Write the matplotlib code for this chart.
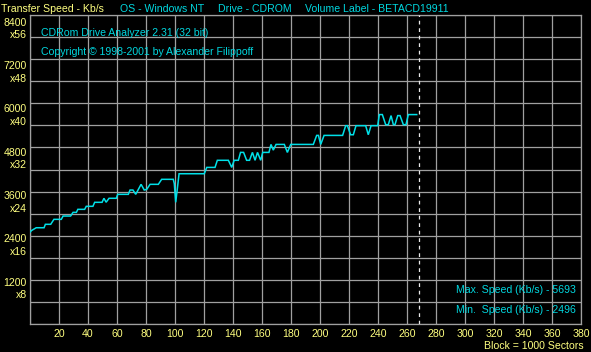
import matplotlib
matplotlib.use("Agg")
import matplotlib.pyplot as plt
from matplotlib.transforms import ScaledTranslation

# ---------------- data ----------------
blocks = [0, 1, 4.3, 9.7, 10.6, 14.3, 16.5, 21.6, 22.8, 28, 29.7, 32, 33, 37.7, 38.8, 43.4,
          44.6, 49.7, 51, 52.5, 54.5, 59.5, 60.5, 67.8, 69, 71, 72.9, 74.5, 76.6, 78.8, 80.5,
          82.8, 88.5, 90.8, 98.8, 99.5, 100.5, 101.5, 102.8, 120.2, 121.9, 127.6, 129.2, 136.8,
          139.1, 140.8, 143.7, 145.2, 147.3, 149.4, 151.4, 153.4, 155.2, 156.9, 159.1, 160.5,
          164.8, 166.2, 167.8, 169.7, 175.4, 177.5, 179.8, 195.4, 197.7, 198.9, 200.5, 202.8,
          215.6, 217.7, 218.9, 221.1, 223.0, 224.8, 231.5, 233.3, 235.2, 239.8, 240.9, 243.0,
          245.3, 247.1, 249.0, 250.6, 251.7, 253.6, 255.2, 257.5, 259.3, 260.9, 266.7]
speeds = [2496, 2540, 2617, 2617, 2710, 2710, 2845, 2845, 2935, 2935, 3035, 3035, 3117, 3117, 3199, 3199,
          3308, 3308, 3417, 3310, 3417, 3417, 3525, 3525, 3642, 3642, 3525, 3642, 3797, 3642, 3660,
          3797, 3797, 3933, 3933, 3820, 3308, 3640, 4085, 4085, 4257, 4257, 4450, 4450,
          4257, 4450, 4450, 4665, 4665, 4450, 4450, 4665, 4450, 4665, 4450, 4665,
          4665, 4882, 4727, 4882, 4882, 4664, 4882, 4882, 5127, 5127, 4882, 5127,
          5127, 5391, 5391, 5145, 5145, 5391, 5391, 5145, 5391, 5391, 5693, 5693,
          5418, 5418, 5665, 5418, 5418, 5665, 5665, 5418, 5418, 5693, 5693]
end_block = 268
x_ticks = list(range(20, 381, 20))
y_label_vals = [1200, 2400, 3600, 4800, 6000, 7200, 8400]
y_mult_labels = ["x8", "x16", "x24", "x32", "x40", "x48", "x56"]
header_texts = ["Transfer Speed - Kb/s", "OS - Windows NT", "Drive - CDROM",
                "Volume Label - BETACD19911"]
title_text = "CDRom Drive Analyzer 2.31 (32 bit)"
copyright_text = "Copyright \u00a9 1998-2001 by Alexander Filippoff"
max_text = "Max. Speed (Kb/s) - 5693"
min_text = "Min.  Speed (Kb/s) - 2496"
block_text = "Block = 1000 Sectors"

# ---------------- style ----------------
W, H = 591, 352
DPI = 100
YEL = "#FFFF80"
CYA = "#00D8E0"
LINE = "#00E0E8"
GRID = "#A0A0A0"
FONT = "Liberation Sans"
FS = 7.6

fig = plt.figure(figsize=(W / DPI, H / DPI), dpi=DPI, facecolor="black")
L, R, T, B = 30, 581, 15, 324
ax = fig.add_axes([L / W, 1 - B / H, (R - L) / W, (B - T) / H], facecolor="black")
ax.set_xlim(0, 380)
ax.set_ylim(0, 8400)
ax.set_xticks(range(0, 381, 20))
ax.set_yticks(range(0, 8401, 600))
ax.grid(True, color=GRID, lw=0.9)
ax.set_axisbelow(True)
for s in ax.spines.values():
    s.set_color(GRID)
    s.set_linewidth(0.9)
ax.tick_params(length=0, labelleft=False, labelbottom=False)

ax.plot(blocks, speeds, color=LINE, lw=1.1, solid_joinstyle="miter", zorder=3)
ax.axvline(end_block, color="#E8E8E8", lw=0.9, ls=(0, (3, 3)), zorder=4)


def ftext(x, y, s, color, ha="left"):
    fig.text(x / W, 1 - y / H, s, color=color, ha=ha, va="baseline",
             fontsize=FS, family=FONT)


# x tick labels
for v in x_ticks:
    ax.text(v, 0, str(v), color=YEL, ha="center", va="baseline", fontsize=FS, family=FONT,
            transform=ax.transData + ScaledTranslation(0, -13 / DPI, fig.dpi_scale_trans))

# y labels
for v, m in zip(y_label_vals, y_mult_labels):
    off = 1.0 + v * 0.00068
    tr = ax.get_yaxis_transform() + ScaledTranslation(0, -(off + 4) / DPI, fig.dpi_scale_trans)
    ax.text(-3.5 / (R - L), v, str(v), color=YEL, ha="right", va="baseline", fontsize=FS,
            family=FONT, transform=tr, clip_on=False)
    tr2 = ax.get_yaxis_transform() + ScaledTranslation(0, -(off + 16.5) / DPI, fig.dpi_scale_trans)
    ax.text(-3.5 / (R - L), v, m, color=YEL, ha="right", va="baseline", fontsize=FS,
            family=FONT, transform=tr2, clip_on=False)

# header
ftext(1, 12, header_texts[0], YEL)
ftext(120, 12, header_texts[1], CYA)
ftext(218, 12, header_texts[2], CYA)
ftext(305, 12, header_texts[3], CYA)
ftext(41, 35.7, title_text, CYA)
ftext(41, 55.3, copyright_text, CYA)
ftext(576, 292.7, max_text, CYA, ha="right")
ftext(576, 312.7, min_text, CYA, ha="right")
ftext(584, 349.3, block_text, YEL, ha="right")

fig.savefig("out.png", dpi=DPI, facecolor="black")
